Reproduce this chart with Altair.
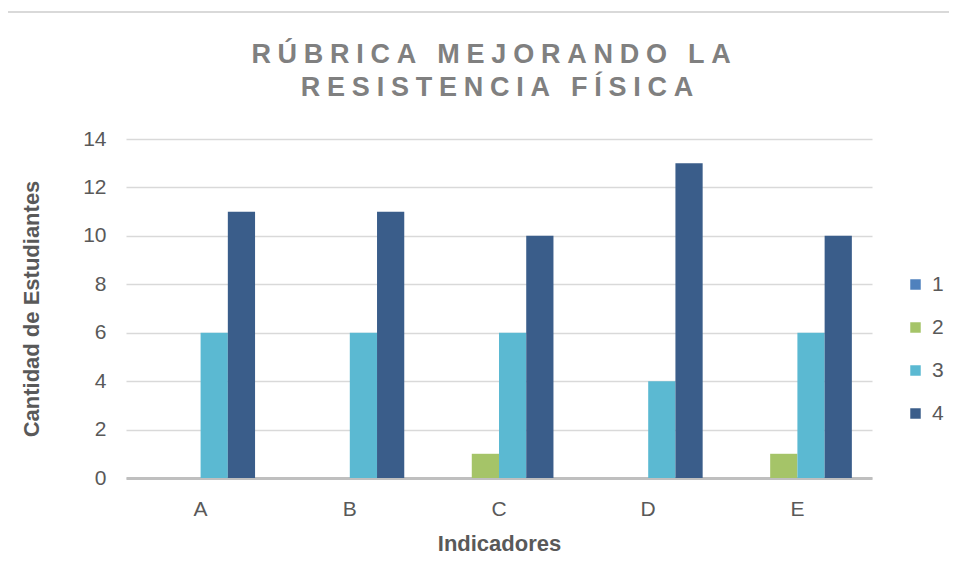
import altair as alt
import pandas as pd

categories = ["A", "B", "C", "D", "E"]
series_names = ["1", "2", "3", "4"]
values_1 = [0, 0, 0, 0, 0]
values_2 = [0, 0, 1, 0, 1]
values_3 = [6, 6, 6, 4, 6]
values_4 = [11, 11, 10, 13, 10]
colors = ["#4F81BD", "#A5C468", "#5BB9D2", "#3A5D8A"]
title_lines = ["RÚBRICA MEJORANDO LA", "RESISTENCIA FÍSICA"]

rows = []
for s, vals in zip(series_names, [values_1, values_2, values_3, values_4]):
    for c, v in zip(categories, vals):
        rows.append({"Indicador": c, "Serie": s, "Valor": v})
df = pd.DataFrame(rows)

FONT = "Liberation Sans"
GAP = "\u2005"  # four-per-em space to emulate letter spacing


def spaced(line):
    sep = GAP + " " + GAP
    return sep.join(GAP.join(word) for word in line.split(" "))


bars = alt.Chart(df).mark_bar().encode(
    x=alt.X("Indicador:N", sort=categories,
            scale=alt.Scale(paddingInner=0.27, paddingOuter=0.135),
            axis=alt.Axis(title="Indicadores", labelAngle=0, labelFontSize=21,
                          labelColor="#595959", labelPadding=20, titleFontSize=22,
                          titleFontWeight="bold", titleColor="#595959", titlePadding=14,
                          ticks=False, grid=False, domainColor="#BFBFBF", domainWidth=3,
                          labelFont=FONT, titleFont=FONT)),
    xOffset=alt.XOffset("Serie:N", sort=series_names, scale=alt.Scale(paddingInner=0, paddingOuter=0)),
    y=alt.Y("Valor:Q", scale=alt.Scale(domain=[0, 14]),
            axis=alt.Axis(title="Cantidad de Estudiantes", values=list(range(0, 15, 2)),
                          labelFontSize=21, labelColor="#595959", labelPadding=20,
                          titleFontSize=22, titleFontWeight="bold", titleColor="#595959",
                          titlePadding=39, ticks=False, domain=False,
                          gridColor="#D9D9D9", gridWidth=1.5,
                          labelFont=FONT, titleFont=FONT)),
    color=alt.Color("Serie:N", sort=series_names,
                    scale=alt.Scale(domain=series_names, range=colors),
                    legend=alt.Legend(title=None, orient="none", legendX=779, legendY=135,
                                      symbolType="square", symbolSize=110,
                                      symbolStrokeWidth=0, labelFontSize=21,
                                      labelColor="#595959", labelFont=FONT,
                                      rowPadding=21, labelOffset=6)),
)

one = pd.DataFrame({"k": [0]})

frame = alt.Chart(one).mark_rect(
    filled=False, stroke="#D9D9D9", strokeWidth=2, clip=False
).encode(
    x=alt.value(-120), x2=alt.value(900),
    y=alt.value(-127), y2=alt.value(600),
)

title1 = alt.Chart(one).mark_text(
    font=FONT, fontSize=27, fontWeight="bold", color="#808080",
    align="center", baseline="middle", clip=False
).encode(x=alt.value(365), y=alt.value(-84), text=alt.value(spaced(title_lines[0])))

title2 = alt.Chart(one).mark_text(
    font=FONT, fontSize=27, fontWeight="bold", color="#808080",
    align="center", baseline="middle", clip=False
).encode(x=alt.value(371), y=alt.value(-51), text=alt.value(spaced(title_lines[1])))

chart = alt.layer(frame, bars, title1, title2).properties(
    width=746,
    height=339,
    background="white",
    padding={"left": 118, "top": 131, "right": 77, "bottom": 90},
    autosize=alt.AutoSizeParams(type="none"),
).configure_view(stroke="transparent", strokeWidth=0)

chart.save("out.html", embed_options={"renderer": "svg", "actions": False})
